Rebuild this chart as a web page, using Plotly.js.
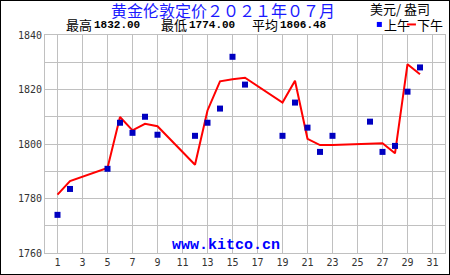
<!DOCTYPE html>
<html>
<head>
<meta charset="utf-8">
<script src="https://cdn.plot.ly/plotly-3.0.1.min.js"></script>
<style>
html,body{margin:0;padding:0;background:#fff;}
#wrap{width:450px;height:275px;border:1px solid #000;box-sizing:border-box;overflow:hidden;}
#chart{width:448px;height:273px;}
</style>
</head>
<body>
<div id="wrap"><div id="chart"></div></div>
<script>
// Trading days of July 2021
const days = [1,2,5,6,7,8,9,12,13,14,15,16,19,20,21,22,23,26,27,28,29,30];
// AM fixing (上午)
const amPrices = [1774.0,1783.5,1790.9,1807.8,1804.1,1810.0,1803.4,1803.0,1807.8,1813.0,1832.0,1821.8,1803.0,1815.2,1806.0,1797.1,1803.0,1808.2,1797.1,1799.3,1819.2,1828.1];
// PM fixing (下午)
const pmPrices = [1781.4,1786.4,1791.2,1809.9,1805.0,1807.4,1806.5,1792.4,1812.3,1823.0,1823.8,1824.3,1815.2,1823.2,1801.9,1799.6,1799.6,1800.3,1800.3,1796.6,1829.3,1825.6];
// Axis ticks
const xTicks = [1,3,5,7,9,11,13,15,17,19,21,23,25,27,29,31];
const yTicks = [1760,1770,1780,1790,1800,1810,1820,1830,1840];
const yTickText = ['1760','','1780','','1800','','1820','','1840'];
// Header texts
const titleText = '黄金伦敦定价２０２１年０７月';
const unitText = '美元/ 盎司';
const statLabels = ['最高','最低','平均'];
const statValues = ['1832.00','1774.00','1806.48'];
const legendAm = '上午';
const legendPm = '下午';
const siteText = 'www.kitco.cn';

// pixel helpers (image coordinates -> paper)
const PL = 45, PR = 444, PT = 35, PB = 252;
const px = v => (v - PL) / (PR - PL);
const py = v => (PB - v) / (PB - PT);

const cjk = '"Noto Sans CJK SC", "Noto Sans", sans-serif';
const mono = '"Liberation Mono", "DejaVu Sans Mono", monospace';

const traces = [
  {x: days, y: pmPrices, type: 'scatter', mode: 'lines',
   line: {color: '#ff0000', width: 2}, hoverinfo: 'skip', showlegend: false},
  {x: days, y: amPrices, type: 'scatter', mode: 'markers',
   marker: {symbol: 'square', size: 6, color: '#0000c0', line: {width: 0}}, hoverinfo: 'skip', showlegend: false}
];

const ann = [];
ann.push({text: titleText, x: px(223), y: py(10), xref: 'paper', yref: 'paper', xanchor: 'center', yanchor: 'middle', showarrow: false,
  font: {family: cjk, size: 16, color: '#1a1aff'}});
ann.push({text: unitText, x: px(367), y: py(9), xref: 'paper', yref: 'paper', xanchor: 'left', yanchor: 'middle', showarrow: false,
  font: {family: cjk, size: 13, color: '#000'}});
const statLabelX = [64, 159, 249];
const statValX = [92, 187, 277];
for (let i = 0; i < 3; i++) {
  ann.push({text: statLabels[i], x: px(statLabelX[i]), y: py(25), xref: 'paper', yref: 'paper', xanchor: 'left', yanchor: 'middle', showarrow: false,
    font: {family: cjk, size: 13, color: '#000'}});
  ann.push({text: '<b>' + statValues[i] + '</b>', x: px(statValX[i]), y: py(25.5), xref: 'paper', yref: 'paper', xanchor: 'left', yanchor: 'middle', showarrow: false,
    font: {family: mono, size: 11, color: '#000'}});
}
ann.push({text: legendAm, x: px(381), y: py(25), xref: 'paper', yref: 'paper', xanchor: 'left', yanchor: 'middle', showarrow: false,
  font: {family: cjk, size: 13, color: '#000'}});
ann.push({text: legendPm, x: px(414), y: py(25), xref: 'paper', yref: 'paper', xanchor: 'left', yanchor: 'middle', showarrow: false,
  font: {family: cjk, size: 13, color: '#000'}});
ann.push({text: '<b>' + siteText + '</b>', x: px(225.5), y: py(245), xref: 'paper', yref: 'paper', xanchor: 'center', yanchor: 'middle', showarrow: false,
  font: {family: mono, size: 15, color: '#0000ff'}});

const shapes = [
  {type: 'rect', xref: 'paper', yref: 'paper', x0: px(376), x1: px(381), y0: py(27), y1: py(22), fillcolor: '#0000ff', line: {width: 0}},
  {type: 'line', xref: 'paper', yref: 'paper', x0: px(406), x1: px(415), y0: py(24.5), y1: py(24.5), line: {color: '#ff0000', width: 2}}
];

const layout = {
  width: 448, height: 273,
  margin: {l: 44, r: 4, t: 34, b: 21, pad: 0},
  paper_bgcolor: '#ffffff', plot_bgcolor: '#ffffff',
  showlegend: false,
  xaxis: {range: [0, 32], tickvals: xTicks, ticktext: xTicks.map(String), showgrid: true, gridcolor: '#c0c0c0', gridwidth: 1,
    zeroline: false, showline: true, linecolor: '#c0c0c0', linewidth: 1, mirror: true, ticks: '',
    tickfont: {family: '"DejaVu Sans Mono", monospace', size: 10, color: '#333'}, fixedrange: true},
  yaxis: {range: [1760, 1840], tickvals: yTicks, ticktext: yTickText, showgrid: true, gridcolor: '#c0c0c0', gridwidth: 1,
    zeroline: false, showline: true, linecolor: '#c0c0c0', linewidth: 1, mirror: true, ticks: '',
    tickfont: {family: '"DejaVu Sans Mono", monospace', size: 10, color: '#333'}, fixedrange: true},
  annotations: ann,
  shapes: shapes
};

Plotly.newPlot('chart', traces, layout, {staticPlot: true, displayModeBar: false});
</script>
</body>
</html>
